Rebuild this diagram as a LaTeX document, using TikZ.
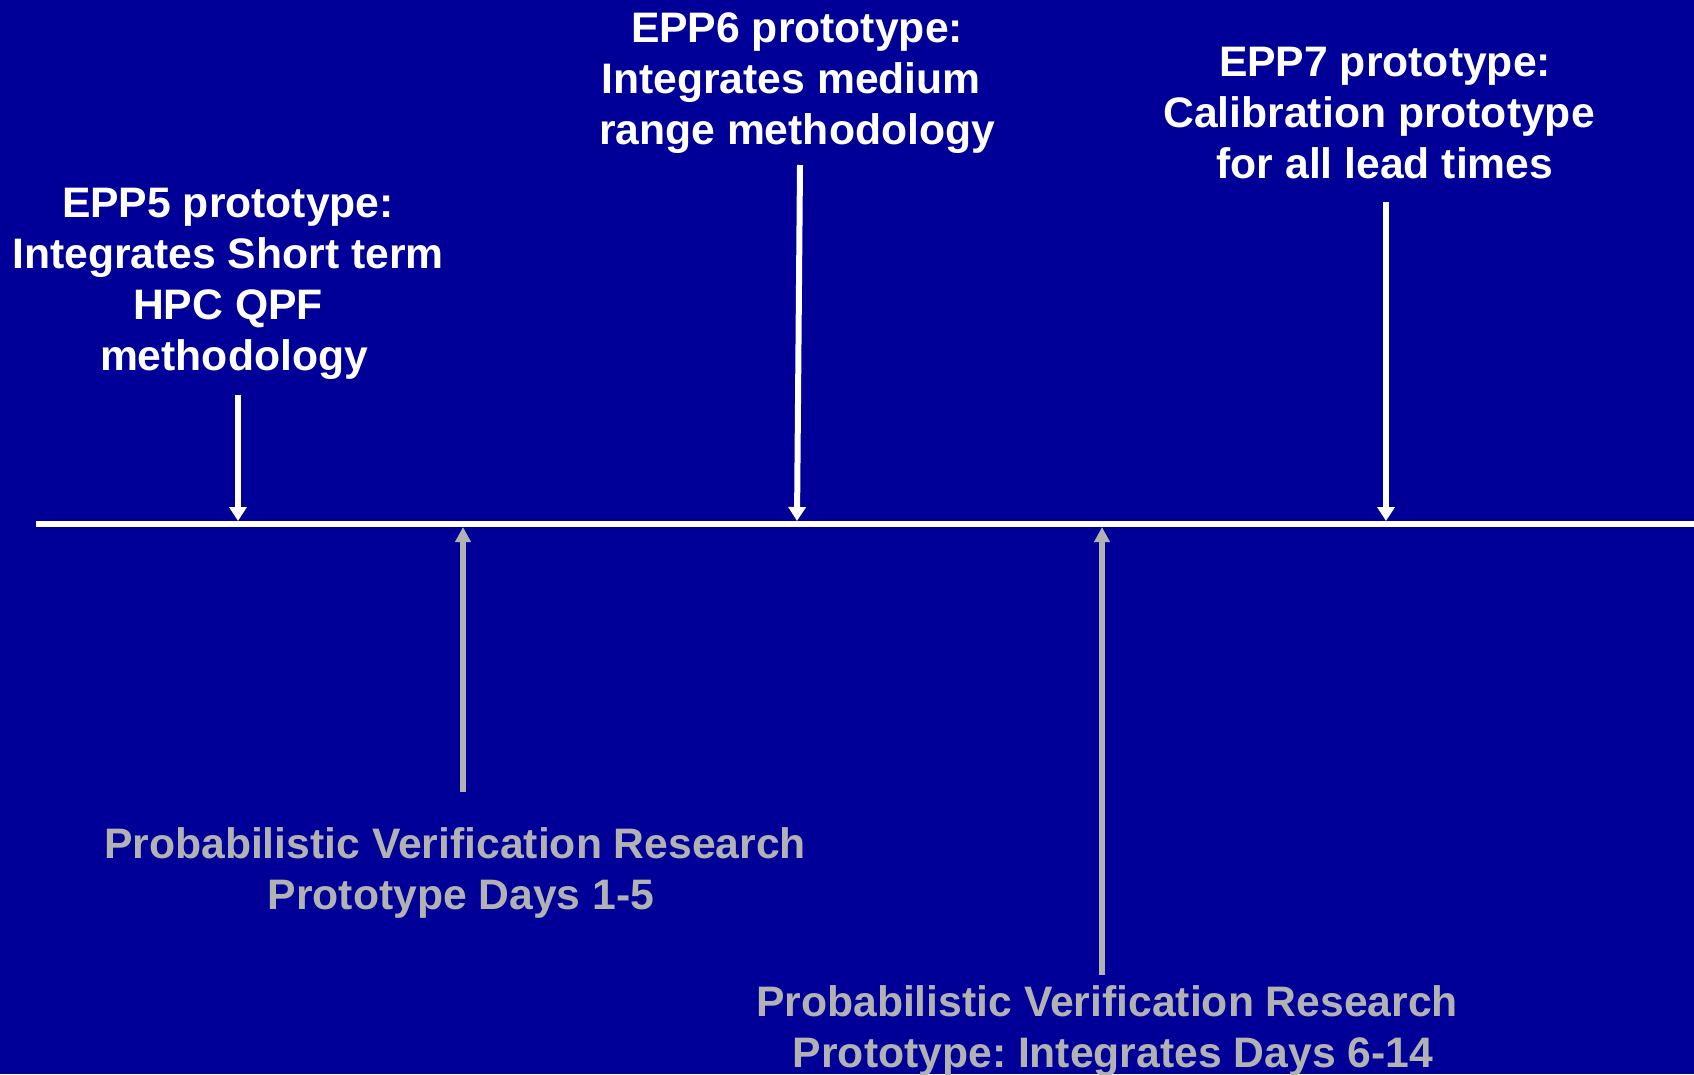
\documentclass[tikz,border=0pt]{standalone}
\usepackage{fontspec}
\setmainfont{Liberation Sans}
\usetikzlibrary{arrows.meta}
\definecolor{slidebg}{RGB}{0,0,153}
\definecolor{slidegray}{RGB}{178,178,178}
\frenchspacing
\begin{document}
\begin{tikzpicture}[x=1pt,y=-1pt,
  label text/.style={inner sep=0pt, anchor=north, align=center,
    font=\bfseries\fontsize{42.67pt}{51pt}\selectfont},
  milestone/.style={label text, text=white},
  research/.style={label text, text=slidegray},
  down arrow/.style={draw=white, line width=6pt, -{Triangle[width=17pt,length=14pt]}},
  up arrow/.style={draw=slidegray, line width=5.5pt, -{Triangle[width=15pt,length=15pt]}},
]
% slide background and page size
\fill[slidebg] (0,0) rectangle (1694,1074);
\useasboundingbox (0,0) rectangle (1694,1074);

% timeline
\coordinate (tl-start) at (36,524);
\coordinate (tl-end) at (1694,524);
\draw[white, line width=6pt] (tl-start) -- (tl-end);

% milestones above the line
\node[milestone] (epp5) at (228,181.3)
  {\strut EPP5 prototype:\\Integrates Short term\\HPC QPF\\\kern11.9pt methodology};
\node[milestone] (epp6) at (797,6.3)
  {\strut EPP6 prototype:\\Integrates medium\kern11.9pt\\range methodology};
\node[milestone] (epp7) at (1385,40.3)
  {\strut EPP7 prototype:\\Calibration prototype\kern11.9pt\\for all lead times};

% research prototypes below the line
\node[research] (pvr1) at (461,822.3)
  {\strut Probabilistic Verification Research\kern11.9pt\\Prototype Days 1-5};
\node[research] (pvr2) at (1113,980.3)
  {\strut Probabilistic Verification Research\kern11.9pt\\Prototype: Integrates Days 6-14};

% arrow ends
\coordinate (epp5-from) at (238,395);
\coordinate (epp5-on) at (238,521);
\coordinate (epp6-from) at (800,165);
\coordinate (epp6-on) at (797,521);
\coordinate (epp7-from) at (1386,202);
\coordinate (epp7-on) at (1386,521);
\coordinate (pvr1-from) at (463,792);
\coordinate (pvr1-on) at (463,527);
\coordinate (pvr2-from) at (1102,975);
\coordinate (pvr2-on) at (1102,527);

\draw[down arrow] (epp5-from) -- (epp5-on);
\draw[down arrow] (epp6-from) -- (epp6-on);
\draw[down arrow] (epp7-from) -- (epp7-on);
\draw[up arrow] (pvr1-from) -- (pvr1-on);
\draw[up arrow] (pvr2-from) -- (pvr2-on);
\end{tikzpicture}
\end{document}
